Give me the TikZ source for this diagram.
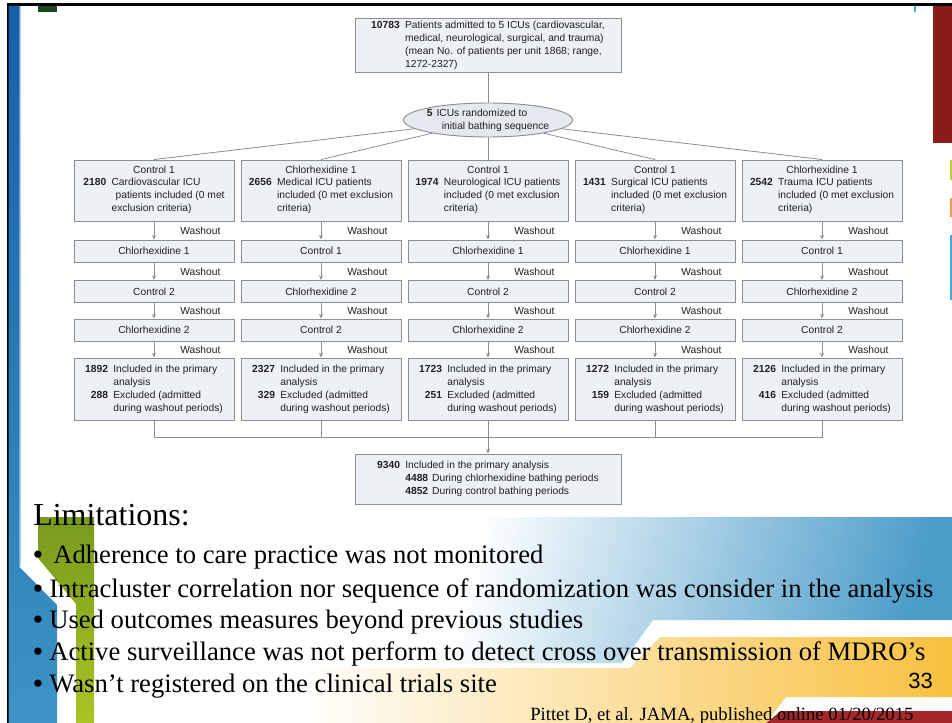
\documentclass[tikz,border=0pt]{standalone}
\usepackage{fontspec}
\setmainfont{Liberation Serif}
\newfontfamily\chartfont{Liberation Sans}
\usetikzlibrary{arrows.meta,shapes.geometric}

\definecolor{boxfill}{HTML}{EDF0F4}
\definecolor{ellfill}{HTML}{E5E9EF}
\definecolor{boxline}{HTML}{8E8E8E}
\definecolor{chartink}{HTML}{231F20}
\definecolor{barblue}{HTML}{1560A8}
\definecolor{barbluelow}{HTML}{3C93C4}
\definecolor{baredge}{HTML}{A8D4F2}
\definecolor{barolive}{HTML}{789A1E}
\definecolor{barlime}{HTML}{AAC424}
\definecolor{fadeblue}{HTML}{4A9CC9}
\definecolor{peach}{HTML}{F8C4A4}
\definecolor{sunorange}{HTML}{F8C03E}
\definecolor{deepred}{HTML}{A4282A}
\definecolor{darkred}{HTML}{8B1A1A}
\definecolor{darkgreen}{HTML}{1B4A1E}
\definecolor{tickcyan}{HTML}{3FA9DC}
\definecolor{ticklime}{HTML}{B8D030}
\definecolor{tickorange}{HTML}{F0A040}

\newcommand\nb[1]{\textbf{#1}}
\newcommand\blt{{\chartfont\textbullet}}

\tikzset{
  chart/.style={font=\chartfont\fontsize{7.7}{9.75}\selectfont, text=chartink},
  flowbox/.style={chart, draw=boxline, fill=boxfill, line width=0.7pt, inner sep=1pt, align=center},
  topbox/.style={flowbox, minimum width=199.5pt, minimum height=40pt},
  hdrbox/.style={flowbox, minimum width=120pt, minimum height=45.75pt},
  seqbox/.style={flowbox, minimum width=120pt, minimum height=16.5pt},
  resbox/.style={flowbox, minimum width=120pt, minimum height=46.5pt},
  sumbox/.style={flowbox, minimum width=199.5pt, minimum height=37.5pt},
  randell/.style={chart, ellipse, draw=boxline, fill=ellfill, line width=0.7pt, inner sep=-1pt, minimum width=118.5pt, minimum height=25.5pt},
  link/.style={draw=boxline, line width=0.6pt},
  flow/.style={link, -{Stealth[length=3.5pt,width=3pt]}},
  washlbl/.style={chart, anchor=west, inner sep=0pt},
  slidetxt/.style={anchor=base west, inner sep=0pt, font=\fontsize{20}{24}\selectfont},
}

\begin{document}
\begin{tikzpicture}[x=0.75pt, y=-0.75pt]
    \useasboundingbox (0,0) rectangle (952,723);
    \fill[white] (0,0) rectangle (952,723);

    % Slide frame and bars
    \fill[black] (6.5,3.5) rectangle (952,6);
    \fill[black] (6.5,3.5) rectangle (8.5,723);
    \shade[top color=barblue, bottom color=barbluelow] (8.5,6) -- (19.5,6) -- (19.5,567) -- (57,605) -- (57,723) -- (8.5,723) -- cycle;
    \draw[baredge, line width=0.75pt] (20,6) -- (20,566);
    \fill[darkgreen] (38,6) rectangle (57,12);
    \shade[top color=barolive, bottom color=barlime] (38,517) -- (94,517) -- (94,723) -- (76,723) -- (76,604) -- (38,558) -- cycle;
    \fill[darkred] (933,6) rectangle (952,143);
    \fill[tickcyan] (914,6) rectangle (916,12);
    \fill[ticklime] (949.5,160) rectangle (952,180);
    \fill[tickorange] (949.5,198) rectangle (952,217);
    \fill[tickcyan] (949.5,235) rectangle (952,300);

    % Colour bands at the lower right
    \shade[left color=white, right color=fadeblue, shading angle=75] (430,517) -- (952,517) -- (952,620) -- (653,620) -- (622,663) -- (430,663) -- cycle;
    \shade[left color=white, middle color=peach, right color=sunorange] (952,637) -- (660,637) -- (630,668) -- (300,668) -- (300,723) -- (766,723) -- (786,697) -- (952,697) -- cycle;
    \fill[deepred] (766,723) -- (781,711) -- (952,711) -- (952,723) -- cycle;

    % Top of the flow
    \node[topbox] (top) at (488,45.5) {\begin{tabular}{@{}r@{\hspace{4pt}}l@{}}
        \nb{10783} & Patients admitted to 5 ICUs (cardiovascular,\\
                   & medical, neurological, surgical, and trauma)\\
                   & (mean No. of patients per unit 1868; range,\\
                   & 1272-2327)\end{tabular}};
    \node[randell] (rand) at (488,120) {\begin{tabular}{@{}r@{\hspace{3pt}}l@{}}
        \nb{5} & ICUs randomized to\\
               & \hspace{4pt}initial bathing sequence\end{tabular}};

    % One header per ICU
    \node[hdrbox] (n1-1) at (154,190.5) {Control 1\\[1.5pt]\begin{tabular}{@{}r@{\hspace{4pt}}l@{}}
        \nb{2180} & Cardiovascular ICU\\ & \hspace{3pt}patients included (0 met\\ & exclusion criteria)\end{tabular}};
    \node[hdrbox] (n2-1) at (321,190.5) {Chlorhexidine 1\\[1.5pt]\begin{tabular}{@{}r@{\hspace{4pt}}l@{}}
        \nb{2656} & Medical ICU patients\\ & included (0 met exclusion\\ & criteria)\end{tabular}};
    \node[hdrbox] (n3-1) at (488,190.5) {Control 1\\[1.5pt]\begin{tabular}{@{}r@{\hspace{4pt}}l@{}}
        \nb{1974} & Neurological ICU patients\\ & included (0 met exclusion\\ & criteria)\end{tabular}};
    \node[hdrbox] (n4-1) at (655,190.5) {Control 1\\[1.5pt]\begin{tabular}{@{}r@{\hspace{4pt}}l@{}}
        \nb{1431} & Surgical ICU patients\\ & included (0 met exclusion\\ & criteria)\end{tabular}};
    \node[hdrbox] (n5-1) at (822,190.5) {Chlorhexidine 1\\[1.5pt]\begin{tabular}{@{}r@{\hspace{4pt}}l@{}}
        \nb{2542} & Trauma ICU patients\\ & included (0 met exclusion\\ & criteria)\end{tabular}};

    % Bathing periods
    \foreach \i/\x/\a/\b/\c in {1/154/Chlorhexidine 1/Control 2/Chlorhexidine 2,
                               2/321/Control 1/Chlorhexidine 2/Control 2,
                               3/488/Chlorhexidine 1/Control 2/Chlorhexidine 2,
                               4/655/Chlorhexidine 1/Control 2/Chlorhexidine 2,
                               5/822/Control 1/Chlorhexidine 2/Control 2} {
        \node[seqbox] (n\i-2) at (\x,251) {\a};
        \node[seqbox] (n\i-3) at (\x,291.5) {\b};
        \node[seqbox] (n\i-4) at (\x,330) {\c};
    }

    % Results per ICU
    \node[resbox] (n1-5) at (154,389) {\begin{tabular}{@{}r@{\hspace{4pt}}l@{}}
        \nb{1892} & Included in the primary\\ & analysis\\ \nb{288} & Excluded (admitted\\ & during washout periods)\end{tabular}};
    \node[resbox] (n2-5) at (321,389) {\begin{tabular}{@{}r@{\hspace{4pt}}l@{}}
        \nb{2327} & Included in the primary\\ & analysis\\ \nb{329} & Excluded (admitted\\ & during washout periods)\end{tabular}};
    \node[resbox] (n3-5) at (488,389) {\begin{tabular}{@{}r@{\hspace{4pt}}l@{}}
        \nb{1723} & Included in the primary\\ & analysis\\ \nb{251} & Excluded (admitted\\ & during washout periods)\end{tabular}};
    \node[resbox] (n4-5) at (655,389) {\begin{tabular}{@{}r@{\hspace{4pt}}l@{}}
        \nb{1272} & Included in the primary\\ & analysis\\ \nb{159} & Excluded (admitted\\ & during washout periods)\end{tabular}};
    \node[resbox] (n5-5) at (822,389) {\begin{tabular}{@{}r@{\hspace{4pt}}l@{}}
        \nb{2126} & Included in the primary\\ & analysis\\ \nb{416} & Excluded (admitted\\ & during washout periods)\end{tabular}};

    % Total
    \node[sumbox] (total) at (488,479) {\begin{tabular}{@{}r@{\hspace{4pt}}l@{}}
        \nb{9340} & Included in the primary analysis\\
                  & \nb{4488}\hspace{3pt}During chlorhexidine bathing periods\\
                  & \nb{4852}\hspace{3pt}During control bathing periods\end{tabular}};

    % Connectors
    \draw[link] (top) -- (rand);
    \foreach \i in {1,...,5}
        \draw[link] (rand) -- (n\i-1.north);
    \foreach \i/\x in {1/154,2/321,3/488,4/655,5/822} {
        \foreach \k [evaluate=\k as \kn using int(\k+1)] in {1,...,4}
            \draw[flow] (n\i-\k) -- (n\i-\kn);
        \foreach \y [count=\k] in {230.5,271.5,310.5,349.5}
            \node[washlbl] (w\i-\k) at (\x+26,\y) {Washout};
    }
    \coordinate (mergeL) at (154,437.5);
    \coordinate (mergeR) at (822,437.5);
    \draw[link] (n1-5.south) -- (mergeL) -- (mergeR) -- (n5-5.south);
    \foreach \i in {2,4}
        \draw[link] (n\i-5.south) -- (n\i-5.south |- mergeL);
    \draw[flow] (n3-5.south) -- (total.north);

    % Slide text
    \node[slidetxt, font=\fontsize{24}{28}\selectfont] (limits) at (33,525) {Limitations:};
    \node[slidetxt] (lim1) at (33,563) {\blt\ \hspace{3pt}Adherence to care practice was not monitored};
    \node[slidetxt] (lim2) at (33,597) {\blt\ Intracluster correlation nor sequence of randomization was consider in the analysis};
    \node[slidetxt] (lim3) at (33,628) {\blt\ Used outcomes measures beyond previous studies};
    \node[slidetxt] (lim4) at (33,660) {\blt\ Active surveillance was not perform to detect cross over transmission of MDRO’s};
    \node[slidetxt] (lim5) at (33,692) {\blt\ Wasn’t registered on the clinical trials site};
    \node[anchor=base east, inner sep=0pt, font=\chartfont\fontsize{16.5}{20}\selectfont] (pgnum) at (933,688) {33};
    \node[anchor=base west, inner sep=0pt, font=\fontsize{14}{16}\selectfont] (cite) at (530,720) {Pittet D, et al. JAMA, published online 01/20/2015};
\end{tikzpicture}
\end{document}
